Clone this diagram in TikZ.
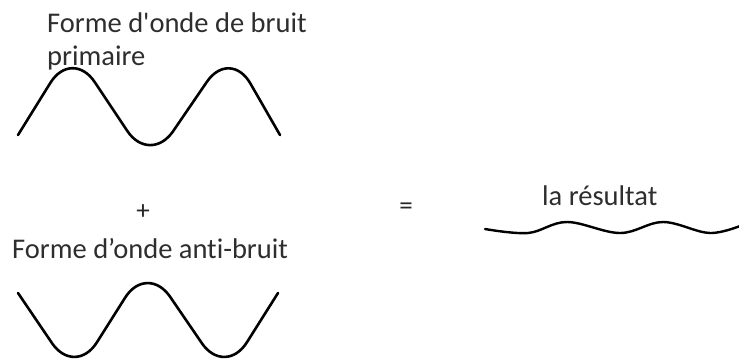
\documentclass[tikz,border=0pt]{standalone}
\usepackage{fontspec}
\setmainfont{Carlito}[Ligatures={TeXOff,NoCommon}]
\begin{document}
\begin{tikzpicture}[x=1pt,y=-1pt,
  wave/.style={line width=2.6pt, black, line cap=round, line join=round},
  labeltxt/.style={inner sep=0pt, anchor=base west, text=black!82, font=\fontsize{28.5}{33}\selectfont},
  sym/.style={inner sep=0pt, text=black!85, font=\fontsize{27}{30}\selectfont}]
\useasboundingbox (0,0) rectangle (739,360);
\fill[white] (0,0) rectangle (739,360);
% labels
\node[labeltxt] (t1) at (47,32) {Forme d'onde de bruit};
\node[labeltxt] (t2) at (47,65) {primaire};
\node[labeltxt] (t3) at (12,258) {Forme d’onde anti-bruit};
\node[labeltxt] (t4) at (542,205) {la résultat};
\node[sym] (plus) at (143,212) {+};
\node[sym] (eq) at (406,209) {=};
% primary noise wave
\draw[wave, rounded corners=41pt] (18,135) -- (72,48) -- (150,165) -- (230,48) -- (280,135);
% anti-noise wave
\draw[wave, rounded corners=41pt] (18,293) -- (75,377) -- (147,263) -- (225,377) -- (278,293);
% result
\draw[wave, line width=2.4pt] plot[smooth, tension=0.6] coordinates {(485,229) (528,233) (567,222) (620,233) (663,222) (710,233) (745,224)};
\end{tikzpicture}
\end{document}
